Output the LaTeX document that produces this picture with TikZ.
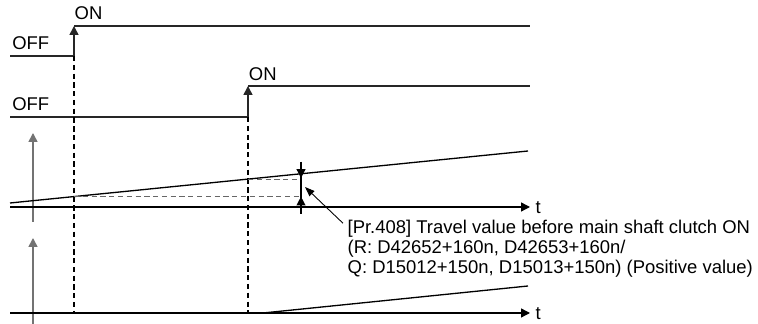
\documentclass[tikz,border=0pt]{standalone}
\usepackage{fontspec}
\setmainfont{Liberation Sans}
\usetikzlibrary{arrows.meta}
\begin{document}
\begin{tikzpicture}[line width=0.75pt,
    sig/.style={line width=0.85pt, black!85},
    tip/.style={-{Triangle[length=5pt, width=5pt]}},
    axisv/.style={tip, black!55, line width=0.85pt},
    guide/.style={dash pattern=on 3pt off 2pt, line width=0.6pt},
    lvl/.style={dash pattern=on 3pt off 2pt, line width=0.6pt, black!60},
    lbl/.style={font=\fontsize{10.5}{11.5}\selectfont, inner sep=0pt}]
  \useasboundingbox (0,0) rectangle (15.16,6.48);
  % first signal
  \draw[sig] (0.200,5.360) -- (1.480,5.360);
  \draw[sig, tip] (1.480,5.360) -- (1.480,5.960);
  \draw[sig] (1.480,5.960) -- (10.600,5.960);
  \node[lbl, anchor=base west] (on1) at (1.480,6.080) {ON};
  \node[lbl, anchor=base west] (off1) at (0.234,5.494) {OFF};
  % second signal
  \draw[sig] (0.200,4.140) -- (4.960,4.140);
  \draw[sig, tip] (4.960,4.140) -- (4.960,4.760);
  \draw[sig] (4.960,4.760) -- (10.600,4.760);
  \node[lbl, anchor=base west] (on2) at (4.966,4.866) {ON};
  \node[lbl, anchor=base west] (off2) at (0.234,4.274) {OFF};
  % timing guides
  \draw[guide] (1.480,5.360) -- (1.480,0.220);
  \draw[guide] (4.960,4.140) -- (4.960,0.220);
  % travel value graph
  \draw[axisv] (0.660,2.040) -- (0.660,3.820);
  \draw[tip] (0.200,2.340) -- (10.600,2.340);
  \node[lbl, anchor=west] (t1) at (10.700,2.320) {t};
  \draw (0.200,2.420) -- (10.560,3.460);
  \draw[lvl] (1.480,2.548) -- (6.020,2.548);
  \draw[lvl] (4.960,2.898) -- (6.020,2.898);
  \draw (6.020,3.240) -- (6.020,2.200);
  \draw[tip] (6.020,3.240) -- (6.020,2.920);
  \draw[tip] (6.020,2.200) -- (6.020,2.548);
  \node[lbl, anchor=north west, align=left] (note) at (6.940,2.095)
    {[Pr.408] Travel value before main shaft clutch ON\\
     (R: D42652+160n, D42653+160n/\\
     Q: D15012+150n, D15013+150n) (Positive value)};
  \coordinate (leadtip) at (6.100,2.740);
  \draw[line width=0.5pt, -{Triangle[length=5.5pt, width=4pt]}] (note.north west) ++(-0.080,-0.080) -- (leadtip);
  % output graph
  \draw[axisv] (0.660,0.000) -- (0.660,1.720);
  \draw[tip] (0.200,0.220) -- (10.600,0.220);
  \node[lbl, anchor=west] (t2) at (10.700,0.200) {t};
  \draw (5.260,0.220) -- (10.560,0.760);
\end{tikzpicture}
\end{document}
